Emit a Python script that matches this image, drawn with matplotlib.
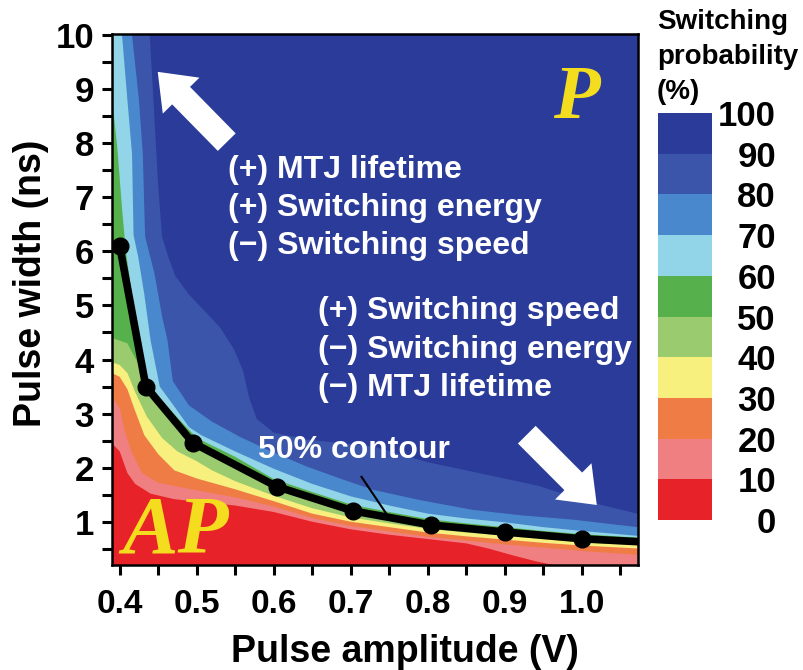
import matplotlib
matplotlib.use("Agg")
import matplotlib.pyplot as plt
from matplotlib.colors import ListedColormap, BoundaryNorm
from matplotlib.cm import ScalarMappable
from matplotlib.ticker import MultipleLocator, NullFormatter

plt.rcParams["font.family"] = ["Liberation Sans", "DejaVu Sans"]
plt.rcParams["font.weight"] = "bold"

# probability levels (%) and the colour of each band between them
levels = [0, 10, 20, 30, 40, 50, 60, 70, 80, 90, 100]
band_colors = ["#e82229", "#f07f82", "#f07c45", "#f7ef7e", "#9acb6e",
               "#56b04b", "#92d5e8", "#4a88cd", "#3a55aa", "#2b3b99"]

# iso-probability boundaries: pulse width (ns) vs pulse amplitude (V)
b10_amp = [0.385, 0.39, 0.40, 0.41, 0.42, 0.44, 0.47, 0.50, 0.55, 0.60, 0.65, 0.70,
           0.75, 0.80, 0.85, 0.88, 0.91, 0.94, 0.97, 1.08]
b10_width = [2.5, 2.45, 2.3, 1.9, 1.7, 1.52, 1.42, 1.37, 1.3, 1.18, 1.0, 0.86,
             0.76, 0.68, 0.6, 0.5, 0.38, 0.27, 0.18, 0.1]
b20_amp = [0.385, 0.39, 0.40, 0.406, 0.415, 0.429, 0.45, 0.50, 0.55, 0.60, 0.65, 0.70,
           0.75, 0.80, 0.85, 0.90, 0.95, 1.00, 1.08]
b20_width = [3.35, 3.3, 3.1, 2.7, 2.3, 1.9, 1.72, 1.58, 1.45, 1.28, 1.07, 0.92,
             0.82, 0.72, 0.65, 0.58, 0.52, 0.46, 0.38]
b30_amp = [0.385, 0.39, 0.40, 0.41, 0.42, 0.432, 0.45, 0.471, 0.50, 0.55, 0.60, 0.65,
           0.70, 0.75, 0.80, 0.85, 0.90, 0.95, 1.00, 1.08]
b30_width = [3.8, 3.75, 3.68, 3.45, 3.05, 2.6, 2.25, 1.95, 1.8, 1.6, 1.38, 1.15,
             1.0, 0.9, 0.8, 0.73, 0.67, 0.61, 0.56, 0.5]
b40_amp = [0.385, 0.39, 0.40, 0.41, 0.42, 0.435, 0.455, 0.475, 0.50, 0.52, 0.55, 0.60,
           0.65, 0.70, 0.75, 0.80, 0.85, 0.90, 0.95, 1.00, 1.08]
b40_width = [4.0, 3.95, 3.9, 3.75, 3.4, 2.95, 2.55, 2.3, 2.12, 1.95, 1.75, 1.48,
             1.25, 1.08, 0.97, 0.87, 0.8, 0.74, 0.68, 0.62, 0.56]
b50_amp = [0.385, 0.39, 0.41, 0.425, 0.434, 0.495, 0.604, 0.703, 0.804, 0.90, 1.00, 1.08]
b50_width = [4.45, 4.4, 4.3, 3.9, 3.5, 2.46, 1.65, 1.2, 0.94, 0.81, 0.685, 0.62]
b60_amp = [0.385, 0.39, 0.397, 0.403, 0.408, 0.415, 0.425, 0.437, 0.45, 0.47, 0.50, 0.55,
           0.60, 0.65, 0.70, 0.75, 0.80, 0.85, 0.90, 0.95, 1.00, 1.08]
b60_width = [9.5, 8.85, 7.9, 6.8, 6.0, 5.3, 4.45, 3.6, 3.32, 3.0, 2.55, 2.2,
             1.79, 1.55, 1.32, 1.18, 1.05, 0.97, 0.9, 0.83, 0.77, 0.7]
b70_amp = [0.385, 0.403, 0.41, 0.416, 0.418, 0.424, 0.432, 0.44, 0.452, 0.47, 0.49, 0.506,
           0.55, 0.60, 0.65, 0.70, 0.75, 0.80, 0.85, 0.90, 0.95, 1.00, 1.08]
b70_width = [12.0, 10.0, 8.8, 7.8, 6.3, 5.9, 5.2, 4.36, 3.5, 3.15, 2.75, 2.6,
             2.3, 1.98, 1.7, 1.47, 1.3, 1.15, 1.06, 0.99, 0.9, 0.83, 0.73]
b80_amp = [0.385, 0.416, 0.425, 0.43, 0.433, 0.445, 0.455, 0.462, 0.469, 0.49, 0.52, 0.556,
           0.60, 0.643, 0.69, 0.729, 0.79, 0.858, 0.92, 0.988, 1.066, 1.08]
b80_width = [14.0, 10.0, 8.8, 7.8, 6.27, 5.6, 4.8, 4.36, 3.6, 3.15, 2.85, 2.57,
             2.28, 2.02, 1.78, 1.59, 1.4, 1.22, 1.12, 1.04, 0.91, 0.89]
b90_amp = [0.385, 0.439, 0.445, 0.45, 0.455, 0.463, 0.472, 0.49, 0.51, 0.53, 0.548, 0.56,
           0.568, 0.578, 0.60, 0.643, 0.73, 0.80, 0.86, 0.945, 1.00, 1.066, 1.08]
b90_width = [16.0, 10.0, 8.5, 7.2, 6.27, 5.9, 5.55, 5.2, 4.9, 4.6, 4.2, 3.8,
             3.3, 2.9, 2.65, 2.52, 2.39, 2.1, 1.92, 1.66, 1.4, 1.17, 1.12]

# measured 50% switching points
c50_amp = [0.40, 0.434, 0.495, 0.604, 0.703, 0.804, 0.90, 1.00, 1.075]
c50_width = [6.1, 3.5, 2.46, 1.65, 1.2, 0.94, 0.81, 0.685, 0.63]

x_ticks = [0.4, 0.5, 0.6, 0.7, 0.8, 0.9, 1.0]
x_ticklabels = ["0.4", "0.5", "0.6", "0.7", "0.8", "0.9", "1.0"]
y_ticks = [1, 2, 3, 4, 5, 6, 7, 8, 9, 10]

boundaries = [(b10_amp, b10_width), (b20_amp, b20_width), (b30_amp, b30_width),
              (b40_amp, b40_width), (b50_amp, b50_width), (b60_amp, b60_width),
              (b70_amp, b70_width), (b80_amp, b80_width), (b90_amp, b90_width)]

fig = plt.figure(figsize=(8.04, 6.70), dpi=100)
ax = fig.add_axes([112 / 804, 105 / 670, 526 / 804, 531 / 670])

# stack the bands: lowest band as background, each next one filled above its boundary
ax.set_facecolor(band_colors[0])
for (amp, width), color in zip(boundaries, band_colors[1:]):
    ax.fill_between(amp, width, 30, color=color, lw=0)

ax.plot(c50_amp, c50_width, color="black", lw=5.5, marker="o", ms=12,
        markevery=slice(0, 8), solid_joinstyle="round", zorder=5)
ax.plot([0.714, 0.748], [1.83, 1.11], color="black", lw=1.5, zorder=5)

ax.set_xlim(0.39, 1.073)
ax.set_ylim(0.2, 10.02)

# trend arrows
arrow_kw = dict(arrowstyle="simple,head_length=2.4,head_width=3.7,tail_width=1.8",
                mutation_scale=10, fc="white", ec="none", shrinkA=0, shrinkB=0)
ax.annotate("", xy=(0.4494, 9.32), xytext=(0.539, 8.02), arrowprops=arrow_kw, zorder=6)
ax.annotate("", xy=(1.0195, 1.31), xytext=(0.9286, 2.61), arrowprops=arrow_kw, zorder=6)

txt_kw = dict(color="white", fontsize=23, fontweight="bold", ha="left", va="center", zorder=7)
for y, s in zip([7.51, 6.80, 6.10],
                ["(+) MTJ lifetime", "(+) Switching energy", "(\u2212) Switching speed"]):
    ax.text(0.5403, y, s, **txt_kw)
for y, s in zip([4.90, 4.18, 3.48],
                ["(+) Switching speed", "(\u2212) Switching energy", "(\u2212) MTJ lifetime"]):
    ax.text(0.657, y, s, **txt_kw)
ax.text(0.579, 2.33, "50% contour", **txt_kw)

state_kw = dict(color="#f4dc1e", fontweight="bold", style="italic",
                family="Liberation Serif", ha="center", va="baseline", zorder=7)
ax.text(0.9935, 8.47, "P", fontsize=55, **state_kw)
ax.text(0.4727, 0.43, "AP", fontsize=60, **state_kw)

# axes, ticks
for sp in ax.spines.values():
    sp.set_linewidth(1.8)
    sp.set_zorder(8)
ax.set_xticks(x_ticks)
ax.set_xticklabels(x_ticklabels, fontsize=24, fontweight="bold")
ax.set_yticks(y_ticks)
ax.set_yticklabels([str(v) for v in y_ticks], fontsize=25, fontweight="bold")
ax.xaxis.set_minor_locator(MultipleLocator(0.05))
ax.yaxis.set_minor_locator(MultipleLocator(0.5))
ax.tick_params(which="both", direction="out", length=7, width=2.2)
ax.tick_params(axis="x", which="major", pad=10)
ax.tick_params(axis="y", which="major", pad=6)

top = ax.secondary_xaxis("top")
top.xaxis.set_major_locator(MultipleLocator(0.05))
top.xaxis.set_major_formatter(NullFormatter())
top.tick_params(direction="in", length=6, width=2.2)
right = ax.secondary_yaxis("right")
right.yaxis.set_major_locator(MultipleLocator(0.5))
right.yaxis.set_major_formatter(NullFormatter())
right.tick_params(direction="in", length=7, width=2.2)

ax.set_xlabel("Pulse amplitude (V)", fontsize=27, fontweight="bold")
ax.xaxis.set_label_coords(0.557, -0.13)
ax.set_ylabel("Pulse width (ns)", fontsize=27, fontweight="bold")
ax.yaxis.set_label_coords(-0.12, 0.53)

# colour scale
cax = fig.add_axes([658 / 804, 150 / 670, 54 / 804, 407 / 670])
sm = ScalarMappable(norm=BoundaryNorm(levels, len(band_colors)),
                    cmap=ListedColormap(band_colors))
cb = fig.colorbar(sm, cax=cax, ticks=levels)
cb.outline.set_visible(False)
cax.tick_params(length=0, pad=46)
cax.set_yticklabels([str(v) for v in levels], fontsize=25, fontweight="bold")
for lbl in cax.get_yticklabels():
    lbl.set_ha("right")
for y, s in zip([22, 57, 92], ["Switching", "probability", "(%)"]):
    fig.text(657 / 804, 1 - y / 670, s, ha="left", va="center",
             fontsize=20, fontweight="bold")

fig.savefig("out.png", dpi=100)
